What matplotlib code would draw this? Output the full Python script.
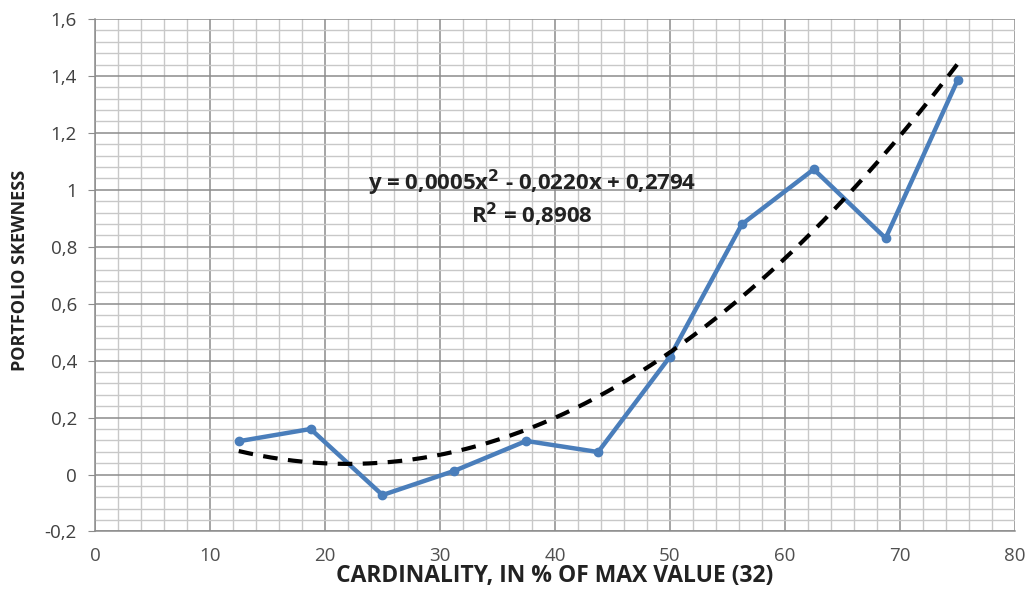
import matplotlib.pyplot as plt
from matplotlib.ticker import MultipleLocator, FuncFormatter
import numpy as np

# cardinality as % of max value (32 assets)
cardinality = [12.5, 18.75, 25, 31.25, 37.5, 43.75, 50, 56.25, 62.5, 68.75, 75]
skewness = [0.117, 0.16, -0.072, 0.013, 0.118, 0.079, 0.414, 0.879, 1.072, 0.83, 1.384]

# quadratic trend coefficients (a, b, c)
trend_coef = [0.0005, -0.0220, 0.2794]
r_squared = 0.8908

plt.rcParams['font.family'] = ['Open Sans', 'DejaVu Sans']

fig = plt.figure(figsize=(10.29, 5.91), dpi=100)
ax = fig.add_axes([0.0923, 0.1007, 0.8941, 0.8672])

ax.set_xlim(0, 80)
ax.set_ylim(-0.2, 1.6)

ax.xaxis.set_major_locator(MultipleLocator(10))
ax.xaxis.set_minor_locator(MultipleLocator(2))
ax.yaxis.set_major_locator(MultipleLocator(0.2))
ax.yaxis.set_minor_locator(MultipleLocator(0.04))

ax.grid(which='minor', color='#c8c8c8', linewidth=1.0)
ax.grid(which='major', color='#8c8c8c', linewidth=1.1)
ax.set_axisbelow(True)

for side in ['top', 'right']:
    ax.spines[side].set_visible(False)
for side in ['left', 'bottom']:
    ax.spines[side].set_color('#8c8c8c')
    ax.spines[side].set_linewidth(1.1)

def comma_fmt(v, pos):
    s = ('%.1f' % v).rstrip('0').rstrip('.')
    if s == '-0':
        s = '0'
    return s.replace('.', ',')

ax.yaxis.set_major_formatter(FuncFormatter(comma_fmt))
ax.tick_params(axis='y', which='major', length=5, color='#8c8c8c', labelsize=13.5,
               labelcolor='#404040', pad=8)
ax.tick_params(axis='x', which='major', length=0, labelsize=13.5,
               labelcolor='#505050', pad=11)
ax.tick_params(which='minor', length=0)

ax.plot(cardinality, skewness, color='#4a7ebb', linewidth=3.2, marker='o',
        markersize=6, zorder=3)

xs = np.linspace(cardinality[0], cardinality[-1], 200)
ys = np.polyval(trend_coef, xs)
ax.plot(xs, ys, color='black', linewidth=3, linestyle=(0, (3.5, 2.5)), zorder=4)

a, b, c = trend_coef
eq = 'y = ' + ('%.4f' % a).replace('.', ',') + 'x$^{\\mathbf{2}}$ - ' + \
    ('%.4f' % abs(b)).replace('.', ',') + 'x + ' + ('%.4f' % c).replace('.', ',')
ax.text(38.0, 1.025, eq, fontsize=16, fontweight='bold', color='#222222',
        ha='center', va='center', zorder=5)
ax.text(38.0, 0.912, 'R$^{\\mathbf{2}}$ = ' + ('%.4f' % r_squared).replace('.', ','),
        fontsize=16, fontweight='bold', color='#222222', ha='center',
        va='center', zorder=5)

fig.text(0.539, 0.025, 'CARDINALITY, IN % OF MAX VALUE (32)', fontsize=16.5,
         fontweight='bold', color='#222222', ha='center', va='center')
fig.text(0.019, 0.543, 'PORTFOLIO SKEWNESS', fontsize=13, fontweight='bold',
         color='#222222', ha='center', va='center', rotation=90)

fig.savefig('out.png', dpi=100, facecolor='white')
